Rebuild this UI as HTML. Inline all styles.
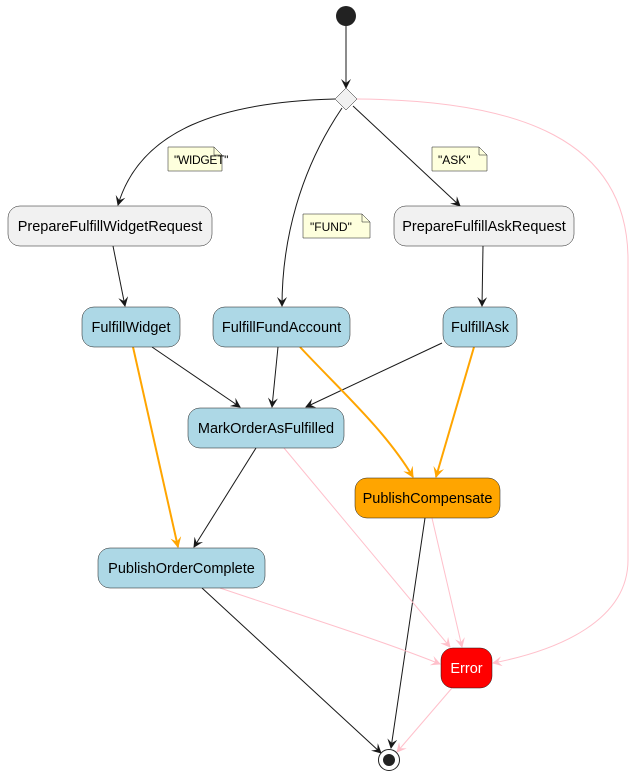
<!DOCTYPE html>
<html><head><meta charset="utf-8"><style>
html,body{margin:0;padding:0;background:#fff;}
svg{display:block;}
text{font-family:"Liberation Sans",sans-serif;font-size:14.5px;}
</style></head><body>
<svg width="633" height="775" viewBox="0 0 633 775" xmlns="http://www.w3.org/2000/svg">
<defs>
<marker id="ab" viewBox="0 0 10 10" refX="9" refY="5" markerWidth="10" markerHeight="10" markerUnits="userSpaceOnUse" orient="auto"><path d="M0,0 L10,5 L0,10 L4,5 Z" fill="#181818"/></marker>
<marker id="ao" viewBox="0 0 10 10" refX="9" refY="5" markerWidth="11" markerHeight="11" markerUnits="userSpaceOnUse" orient="auto"><path d="M0,0 L10,5 L0,10 L4,5 Z" fill="#FFA500"/></marker>
<marker id="ap" viewBox="0 0 10 10" refX="9" refY="5" markerWidth="10" markerHeight="10" markerUnits="userSpaceOnUse" orient="auto"><path d="M0,0 L10,5 L0,10 L4,5 Z" fill="#FFC0CB"/></marker>
</defs>
<g fill="none" stroke="#181818" stroke-width="1" marker-end="url(#ab)">
<path d="M346,26 L346,88"/>
<path d="M335,99 C220,102 140,130 118,205"/>
<path d="M342,108 C300,170 282,240 282,306"/>
<path d="M353,106 L460,206"/>
<path d="M113,246 L125,306"/>
<path d="M483,246 L482,306"/>
<path d="M152,347 L240,407"/>
<path d="M278,347 L272,407"/>
<path d="M442,343 L306,407"/>
<path d="M256,448 L194,547"/>
<path d="M425,518 L391,748"/>
<path d="M202,588 L381,753"/>
</g>
<g fill="none" stroke="#FFA500" stroke-width="2" marker-end="url(#ao)">
<path d="M133,347 L178,547"/>
<path d="M300,347 C340,390 385,430 413,477"/>
<path d="M474,347 L436,477"/>
</g>
<g fill="none" stroke="#FFC0CB" stroke-width="1" marker-end="url(#ap)">
<path d="M357,99 C520,100 628,140 628,260 L628,560 C628,620 560,650 493,663"/>
<path d="M284,448 L450,647"/>
<path d="M432,518 L462,647"/>
<path d="M220,588 C300,615 380,640 440,664"/>
<path d="M452,688 L397,752"/>
</g>
<circle cx="346" cy="16" r="10" fill="#222"/>
<polygon points="346,88 357,99 346,110 335,99" fill="#F1F1F1" stroke="#181818" stroke-width="0.5"/>
<g stroke="#181818" stroke-width="0.5" fill="#FEFFDD">
<path d="M168,147 L214,147 L222,155 L222,171 L168,171 Z"/><path d="M214,147 L214,155 L222,155" fill="none"/>
<path d="M303,214 L362,214 L370,222 L370,238 L303,238 Z"/><path d="M362,214 L362,222 L370,222" fill="none"/>
<path d="M432,147 L479,147 L487,155 L487,171 L432,171 Z"/><path d="M479,147 L479,155 L487,155" fill="none"/>
</g>
<text x="174" y="164" font-size="12" letter-spacing="-0.3" style="font-size:12px">"WIDGET"</text>
<text x="310" y="231" style="font-size:12px">"FUND"</text>
<text x="438" y="164" style="font-size:12px">"ASK"</text>
<g stroke="#181818" stroke-width="0.5">
<rect x="8" y="206" width="204" height="40" rx="12" fill="#F1F1F1"/>
<rect x="394" y="206" width="180" height="40" rx="12" fill="#F1F1F1"/>
<rect x="82" y="307" width="98" height="40" rx="12" fill="#ADD8E6"/>
<rect x="213" y="307" width="137" height="40" rx="12" fill="#ADD8E6"/>
<rect x="443" y="307" width="74" height="40" rx="12" fill="#ADD8E6"/>
<rect x="188" y="408" width="156" height="40" rx="12" fill="#ADD8E6"/>
<rect x="355" y="478" width="145" height="40" rx="12" fill="#FFA500"/>
<rect x="98" y="548" width="167" height="40" rx="12" fill="#ADD8E6"/>
<rect x="441" y="648" width="51" height="40" rx="12" fill="#FF0000"/>
</g>
<g text-anchor="middle" fill="#000">
<text x="110" y="231">PrepareFulfillWidgetRequest</text>
<text x="484" y="231">PrepareFulfillAskRequest</text>
<text x="131" y="332">FulfillWidget</text>
<text x="281.5" y="332">FulfillFundAccount</text>
<text x="480" y="332">FulfillAsk</text>
<text x="266" y="433">MarkOrderAsFulfilled</text>
<text x="427.5" y="503">PublishCompensate</text>
<text x="181.5" y="573">PublishOrderComplete</text>
<text x="466.5" y="673" fill="#fff">Error</text>
</g>
<circle cx="389" cy="760" r="10.5" fill="#fff" stroke="#222" stroke-width="1"/>
<circle cx="389" cy="760" r="6" fill="#222"/>
</svg>
</body></html>
